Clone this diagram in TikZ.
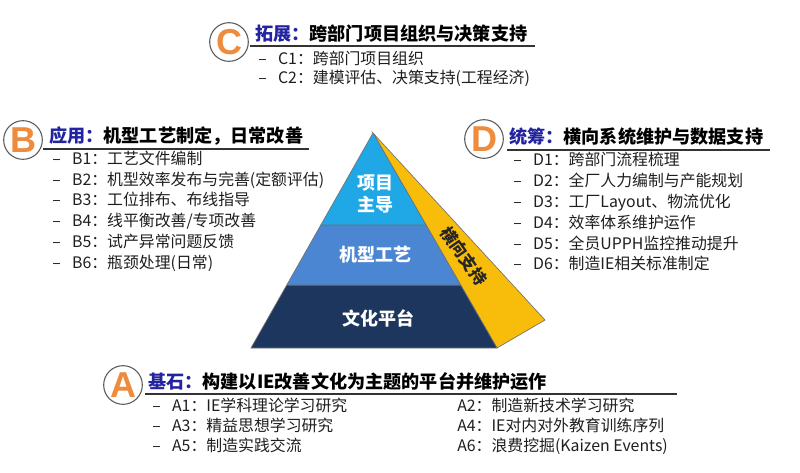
\documentclass[tikz,border=0pt]{standalone}
\usepackage{fontspec}
\setmainfont{Noto Sans CJK SC}
\newfontfamily\letterfont{Liberation Sans}
\usetikzlibrary{calc}
\definecolor{tiertop}{HTML}{1FA7E6}
\definecolor{tiermid}{HTML}{4A86D2}
\definecolor{tierbase}{HTML}{1C365E}
\definecolor{wingyellow}{HTML}{F8BC0A}
\definecolor{letterorange}{HTML}{EF8B3C}
\definecolor{headblue}{HTML}{2323A0}
\definecolor{itemgray}{HTML}{1E1E1E}
\newcommand{\dashitem}[1]{\makebox[1.25em][l]{–}#1}
\begin{document}
\begin{tikzpicture}[x=0.75pt,y=-0.75pt]
			\tikzstyle{every node}+=[inner sep=0pt]
			\tikzstyle{badge}=[circle, draw=black!65, line width=0.8pt, fill=white, minimum size=29pt, text=letterorange, font=\letterfont\bfseries\fontsize{27}{27}\selectfont]
			\tikzstyle{heading}=[anchor=west, text height=10pt, text depth=2pt, font=\bfseries\fontsize{13.6}{16}\selectfont]
			\tikzstyle{item}=[anchor=west, text=itemgray, text height=8.5pt, text depth=2pt, font=\fontsize{11.9}{14}\selectfont]
			\tikzstyle{rule}=[draw=black!80, line width=0.9pt]
			\tikzstyle{tier}=[draw=black!55, line width=0.5pt]
			\tikzstyle{tierlabel}=[text=white, align=center, font=\bfseries\fontsize{13.5}{16.5}\selectfont]
			\useasboundingbox (0,0) rectangle (800,472);
			% pyramid
			\coordinate (apex) at (373,133);
			\coordinate (bl) at (251,348);
			\coordinate (br) at (497,348);
			\coordinate (wing) at (545,320);
			\coordinate (l1) at ($(apex)!0.428!(bl)$);
			\coordinate (r1) at ($(apex)!0.428!(br)$);
			\coordinate (l2) at ($(apex)!0.707!(bl)$);
			\coordinate (r2) at ($(apex)!0.707!(br)$);
			\filldraw [tier, fill=wingyellow] (apex) -- (wing) -- (br) -- cycle;
			\filldraw [tier, fill=tierbase] (l2) -- (r2) -- (br) -- (bl) -- cycle;
			\filldraw [tier, fill=tiermid] (l1) -- (r1) -- (r2) -- (l2) -- cycle;
			\filldraw [tier, fill=tiertop] (apex) -- (r1) -- (l1) -- cycle;
			\node [tierlabel] (lead) at (375,194) {项目\\主导};
			\node [tierlabel] (craft) at (375,255) {机型工艺};
			\node [tierlabel] (culture) at (378,318) {文化平台};
			\node [tierlabel, text=black!85, rotate=-55, font=\bfseries\fontsize{12.5}{14}\selectfont] (support) at (464,256) {横向支持};
			% C
			\node [badge] (bC) at (229,42) {C};
			\node [heading] (hC) at (255,35) {\textcolor{headblue}{拓展：}跨部门项目组织与决策支持};
			\draw [rule] (250,46) -- (535,46);
			\foreach \y/\t [count=\i] in {60/{C1：跨部门项目组织}, 79/{C2：建模评估、决策支持(工程经济)}}
				\node [item] (c\i) at (258,\y) {\dashitem{\t}};
			% B
			\node [badge] (bB) at (23,140) {B};
			\node [heading] (hB) at (49,137) {\textcolor{headblue}{应用：}机型工艺制定，日常改善};
			\draw [rule] (43,149) -- (309,149);
			\foreach \y/\t [count=\i] in {160/{B1：工艺文件编制}, 181/{B2：机型效率发布与完善(定额评估)}, 201/{B3：工位排布、布线指导}, 222/{B4：线平衡改善/专项改善}, 243/{B5：试产异常问题反馈}, 264/{B6：瓶颈处理(日常)}}
				\node [item] (b\i) at (52,\y) {\dashitem{\t}};
			% D
			\node [badge] (bD) at (484,139) {D};
			\node [heading] (hD) at (509,138) {\textcolor{headblue}{统筹：}横向系统维护与数据支持};
			\draw [rule] (507,150) -- (770,150);
			\foreach \y/\t [count=\i] in {161/{D1：跨部门流程梳理}, 182/{D2：全厂人力编制与产能规划}, 203/{D3：工厂Layout、物流优化}, 224/{D4：效率体系维护运作}, 245/{D5：全员UPPH监控推动提升}, 265/{D6：制造IE相关标准制定}}
				\node [item] (d\i) at (513,\y) {\dashitem{\t}};
			% A
			\node [badge] (bA) at (123,385) {A};
			\node [heading] (hA) at (148,383) {\textcolor{headblue}{基石：}构建以IE改善文化为主题的平台并维护运作};
			\draw [rule] (145,394) -- (677,394);
			\foreach \y/\t [count=\i] in {407/{A1：IE学科理论学习研究}, 427/{A3：精益思想学习研究}, 447/{A5：制造实践交流}}
				\node [item] (al\i) at (152,\y) {\dashitem{\t}};
			\foreach \y/\t [count=\i] in {407/{A2：制造新技术学习研究}, 427/{A4：IE对内对外教育训练序列}, 447/{A6：浪费挖掘(Kaizen Events)}}
				\node [item] (ar\i) at (457,\y) {\t};
\end{tikzpicture}
\end{document}
